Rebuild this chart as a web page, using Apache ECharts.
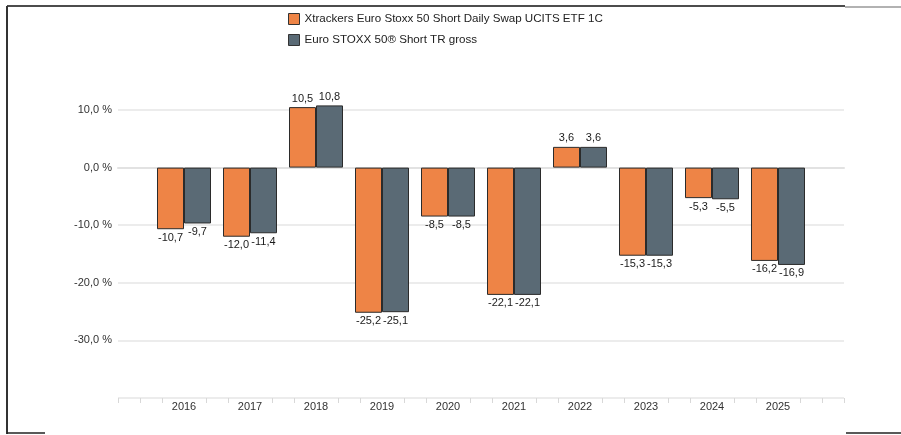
<!DOCTYPE html>
<html>
<head>
<meta charset="utf-8">
<script src="https://cdn.jsdelivr.net/npm/echarts@6/dist/echarts.min.js"></script>
<style>
  html, body { margin: 0; padding: 0; background: #fff; }
  #chart { width: 901px; height: 435px; }
</style>
</head>
<body>
<div id="chart"></div>
<script>
const years = ['', '2016', '2017', '2018', '2019', '2020', '2021', '2022', '2023', '2024', '2025', '']
const etfValues = [null, -10.7, -12.0, 10.5, -25.2, -8.5, -22.1, 3.6, -15.3, -5.3, -16.2, null]
const indexValues = [null, -9.7, -11.4, 10.8, -25.1, -8.5, -22.1, 3.6, -15.3, -5.5, -16.9, null]
const seriesNames = ['Xtrackers Euro Stoxx 50 Short Daily Swap UCITS ETF 1C', 'Euro STOXX 50® Short TR gross']
const colors = ['#EE8446', '#5A6A75']

const fmt = (v) => v.toFixed(1).replace('.', ',')

const chart = echarts.init(document.getElementById('chart'))

// helper axis that only draws the little ticks along the bottom
const tickSlots = Array.from({ length: 34 }, (_, i) => String(i))

const makeSeries = (name, data, color) => ({
  name,
  type: 'bar',
  data: data.map(v => v === null ? null : {
    value: v,
    label: { position: v >= 0 ? 'top' : 'bottom' }
  }),
  barWidth: 27,
  barGap: '0%',
  clip: false,
  itemStyle: { color, borderColor: '#2b2b2b', borderWidth: 1 },
  label: {
    show: true,
    distance: 3,
    color: '#1a1a1a',
    fontSize: 11,
    fontFamily: 'Liberation Sans, Arial, sans-serif',
    formatter: (p) => fmt(p.value)
  }
})

chart.setOption({
  animation: false,
  backgroundColor: '#fff',
  legend: {
    orient: 'vertical',
    left: 283,
    top: 8,
    itemWidth: 11,
    itemHeight: 11,
    itemGap: 9,
    icon: 'rect',
    textStyle: { color: '#222', fontSize: 11.6, fontFamily: 'Liberation Sans, Arial, sans-serif' },
    itemStyle: { borderColor: '#333', borderWidth: 1 },
    data: seriesNames
  },
  grid: { left: 118, right: 57, top: 110, bottom: 37, containLabel: false },
  xAxis: [
    {
      type: 'category',
      data: years,
      boundaryGap: false,
      axisLine: { lineStyle: { color: '#e2e2e2', width: 2 } },
      axisTick: { show: false },
      axisLabel: {
        color: '#333',
        fontSize: 11,
        margin: 3,
        fontFamily: 'Liberation Sans, Arial, sans-serif'
      }
    },
    {
      type: 'category',
      data: tickSlots,
      boundaryGap: false,
      position: 'bottom',
      axisLine: { show: false },
      axisLabel: { show: false },
      axisTick: {
        show: true,
        length: 5,
        interval: (i) => i % 3 !== 0 || i === 0 || i === 33,
        lineStyle: { color: '#d8d8d8' }
      }
    }
  ],
  yAxis: {
    type: 'value',
    min: -40,
    max: 10,
    interval: 10,
    axisLine: { show: false },
    axisTick: { show: false },
    axisLabel: {
      color: '#333',
      fontSize: 11,
      margin: 6,
      fontFamily: 'Liberation Sans, Arial, sans-serif',
      formatter: (v) => v === -40 ? '' : fmt(v) + ' %'
    },
    splitLine: { lineStyle: { color: '#e6e6e6', width: 1.5 } }
  },
  series: [
    makeSeries(seriesNames[0], etfValues, colors[0]),
    makeSeries(seriesNames[1], indexValues, colors[1])
  ],
  graphic: [
    { type: 'line', shape: { x1: 7, y1: 6, x2: 845, y2: 6 }, style: { stroke: '#111', lineWidth: 1.5 } },
    { type: 'line', shape: { x1: 845, y1: 7, x2: 901, y2: 7 }, style: { stroke: '#999', lineWidth: 1.5 } },
    { type: 'line', shape: { x1: 7, y1: 6, x2: 7, y2: 434 }, style: { stroke: '#333', lineWidth: 2 } },
    { type: 'line', shape: { x1: 7, y1: 433, x2: 45, y2: 433 }, style: { stroke: '#222', lineWidth: 1.5 } },
    { type: 'line', shape: { x1: 846, y1: 433, x2: 901, y2: 433 }, style: { stroke: '#222', lineWidth: 1.5 } }
  ]
})
</script>
</body>
</html>
